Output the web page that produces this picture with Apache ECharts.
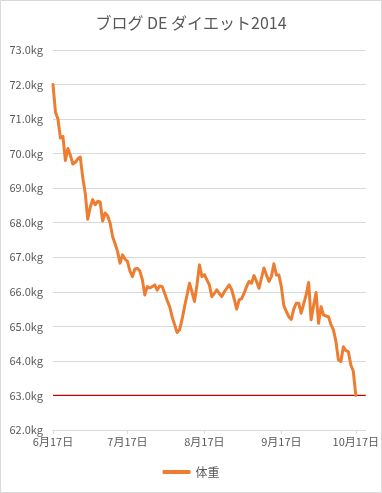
<!DOCTYPE html>
<html>
<head>
<meta charset="utf-8">
<script src="https://cdn.jsdelivr.net/npm/echarts@6/dist/echarts.min.js"></script>
<style>
html,body{margin:0;padding:0;background:#fff;}
#chart{width:382px;height:493px;}
</style>
</head>
<body>
<div id="chart"></div>
<script>
// Data (daily weights from 2014-06-17)
const startDate = [2014, 6, 17];
const axisDays = 127; // 6/17 .. 10/21
const weights = [
  72.0, 71.2, 71.0, 70.45, 70.5, 69.8, 70.15, 69.95, 69.7, 69.75,
  69.85, 69.9, 69.3, 68.85, 68.1, 68.45, 68.67, 68.52, 68.62, 68.6,
  68.05, 68.28, 68.2, 67.99, 67.6, 67.4, 67.17, 66.83, 67.07, 66.95,
  66.88, 66.6, 66.44, 66.66, 66.68, 66.6, 66.35, 65.91, 66.15, 66.11,
  66.15, 66.2, 66.05, 66.17, 66.15, 65.96, 65.75, 65.57, 65.28, 65.05,
  64.82, 64.9, 65.2, 65.57, 65.9, 66.25, 66.0, 65.72, 66.2, 66.78,
  66.44, 66.5, 66.35, 66.2, 65.86, 65.95, 66.06, 65.95, 65.86, 66.0,
  66.1, 66.2, 66.06, 65.8, 65.5, 65.77, 65.8, 65.96, 66.15, 66.3,
  66.25, 66.47, 66.3, 66.1, 66.4, 66.69, 66.49, 66.3, 66.44, 66.81,
  66.49, 66.49, 66.15, 65.6, 65.43, 65.28, 65.2, 65.5, 65.67, 65.67,
  65.38, 65.65, 65.91, 66.27, 65.19, 65.6, 65.98, 65.09, 65.57, 65.33,
  65.3, 65.28, 65.05, 64.9, 64.56, 64.03, 63.98, 64.41, 64.3, 64.27,
  63.88, 63.7, 63.0
];
const targetWeight = 63.0;
const yMin = 62, yMax = 73, yStep = 1;
const titleText = 'ブログ DE ダイエット2014';
const seriesName = '体重';

const categories = [];
for (let i = 0; i < axisDays; i++) {
  const d = new Date(startDate[0], startDate[1] - 1, startDate[2] + i);
  categories.push((d.getMonth() + 1) + '/' + d.getDate());
}
const isLabelDay = (idx, val) => String(val).split('/')[1] === '17';

const FONT = '"Noto Sans CJK JP", "Noto Sans", sans-serif';
const TXT = '#595959';
const RED = '#C00000';

const chart = echarts.init(document.getElementById('chart'));
chart.setOption({
  animation: false,
  textStyle: { fontFamily: FONT },
  title: {
    text: titleText,
    left: 'center',
    top: 10,
    textStyle: { fontFamily: FONT, fontSize: 16, fontWeight: 'normal', color: TXT }
  },
  legend: {
    bottom: 10,
    left: 'center',
    icon: 'roundRect',
    itemWidth: 28,
    itemHeight: 4,
    itemGap: 10,
    textStyle: { fontFamily: FONT, fontSize: 12, color: TXT },
    data: [seriesName]
  },
  grid: { left: 53, right: 14, top: 50, bottom: 63, containLabel: false },
  xAxis: {
    type: 'category',
    data: categories,
    boundaryGap: false,
    axisLine: { lineStyle: { color: '#d9d9d9' } },
    axisTick: { show: true, interval: isLabelDay, length: 4, lineStyle: { color: '#d9d9d9' } },
    axisLabel: {
      interval: isLabelDay,
      fontFamily: FONT,
      fontSize: 11,
      color: TXT,
      margin: 6,
      formatter: v => { const p = v.split('/'); return p[0] + '月' + p[1] + '日'; }
    },
    splitLine: { show: false }
  },
  yAxis: {
    type: 'value',
    min: yMin,
    max: yMax,
    interval: yStep,
    axisLine: { show: false },
    axisTick: { show: false },
    axisLabel: {
      fontFamily: FONT,
      fontSize: 11,
      color: TXT,
      margin: 10,
      formatter: v => v.toFixed(1) + 'kg'
    },
    splitLine: { lineStyle: { color: '#d9d9d9', width: 1 } }
  },
  graphic: [{
    type: 'rect',
    shape: { x: 0.5, y: 0.5, width: 381, height: 492 },
    style: { fill: 'none', stroke: '#d9d9d9', lineWidth: 1 },
    silent: true
  }],
  series: [{
    name: 'target',
    type: 'line',
    data: [[categories[0], targetWeight], [categories[axisDays - 1], targetWeight]],
    showSymbol: false,
    symbol: 'none',
    color: RED,
    lineStyle: { color: RED, width: 1.2 },
    silent: true,
    z: 2
  }, {
    name: seriesName,
    type: 'line',
    data: weights,
    showSymbol: false,
    symbol: 'none',
    color: '#ED7D31',
    lineStyle: { color: '#ED7D31', width: 3, join: 'round', cap: 'round' },
    z: 3
  }]
});
</script>
</body>
</html>
